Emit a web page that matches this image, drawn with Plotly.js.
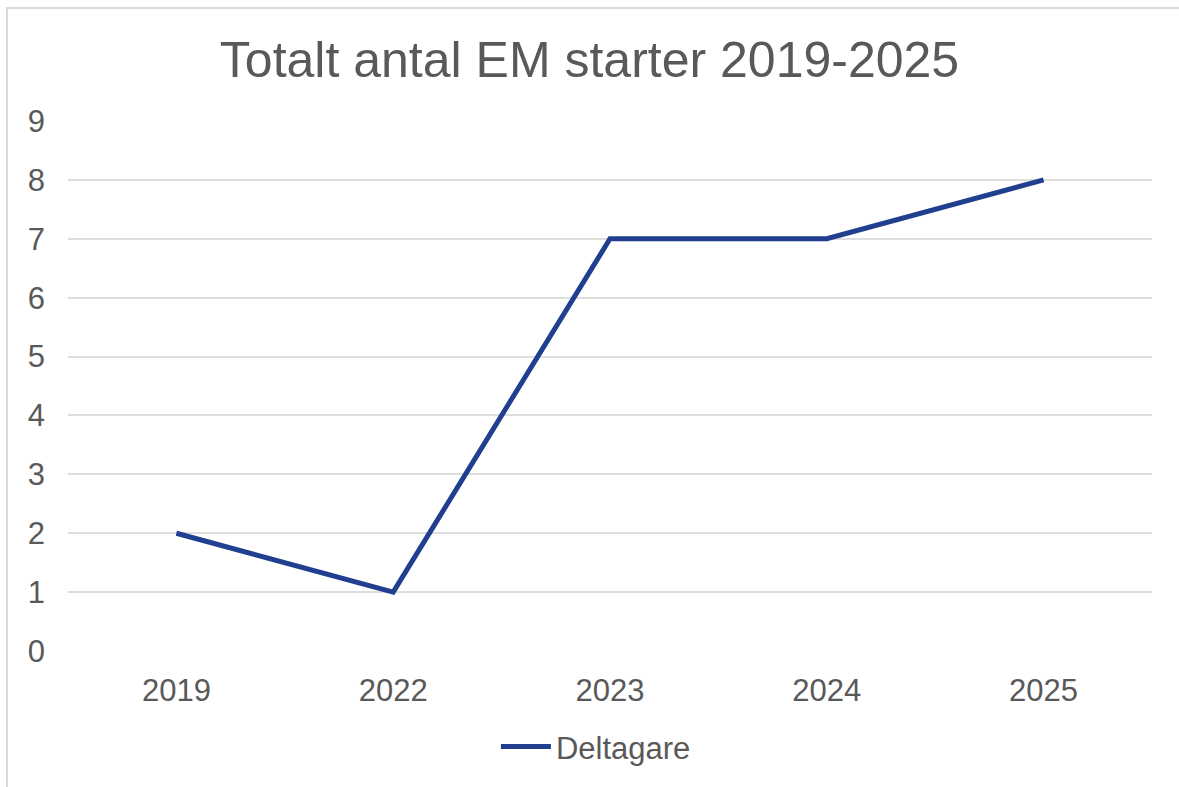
<!DOCTYPE html>
<html>
<head>
<meta charset="utf-8">
<script src="https://cdn.plot.ly/plotly-3.0.1.min.js"></script>
<style>
html,body{margin:0;padding:0;background:#fff;}
#wrap{position:relative;width:1179px;height:787px;overflow:hidden;}
#chart{position:absolute;left:0;top:0;width:1179px;height:787px;}
#frame{position:absolute;left:6px;top:7px;width:1200px;height:800px;border-left:2px solid #d9d9d9;border-top:2px solid #d9d9d9;pointer-events:none;}
</style>
</head>
<body>
<div id="wrap"><div id="chart"></div><div id="frame"></div></div>
<script>
const categories = ["2019", "2022", "2023", "2024", "2025"];
const deltagare = [2, 1, 7, 7, 8];
const yTicks = [0, 1, 2, 3, 4, 5, 6, 7, 8, 9];
const seriesName = "Deltagare";
const chartTitle = "Totalt antal EM starter 2019-2025";

const font = "Liberation Sans, Arial, sans-serif";
const textColor = "#595959";

Plotly.newPlot("chart", [{
  type: "scatter",
  mode: "lines",
  x: categories,
  y: deltagare,
  name: seriesName,
  line: {color: "#203f8f", width: 5}
}], {
  width: 1179, height: 787,
  paper_bgcolor: "rgba(0,0,0,0)",
  plot_bgcolor: "#fff",
  margin: {l: 68, r: 27, t: 121, b: 136},
  title: {text: chartTitle, font: {family: font, size: 50, color: textColor}, x: 0.5, xanchor: "center", y: 0.925, yanchor: "middle"},
  xaxis: {
    type: "category", range: [-0.5, 4.5],
    showgrid: false, zeroline: false, showline: false,
    tickfont: {family: font, size: 31, color: textColor},
    ticks: "", ticklabelstandoff: 18
  },
  yaxis: {
    range: [0, 9], tickvals: yTicks, ticktext: yTicks.map(String),
    showgrid: true, gridcolor: "#dedede", gridwidth: 2,
    zeroline: false, showline: false,
    tickfont: {family: font, size: 31, color: textColor},
    ticks: "", ticklabelstandoff: 22
  },
  showlegend: true,
  legend: {orientation: "h", x: 0.487, xanchor: "center", y: -0.181, yanchor: "middle",
    font: {family: font, size: 31, color: textColor}, itemwidth: 50},
}, {displayModeBar: false, staticPlot: true});
</script>
</body>
</html>
